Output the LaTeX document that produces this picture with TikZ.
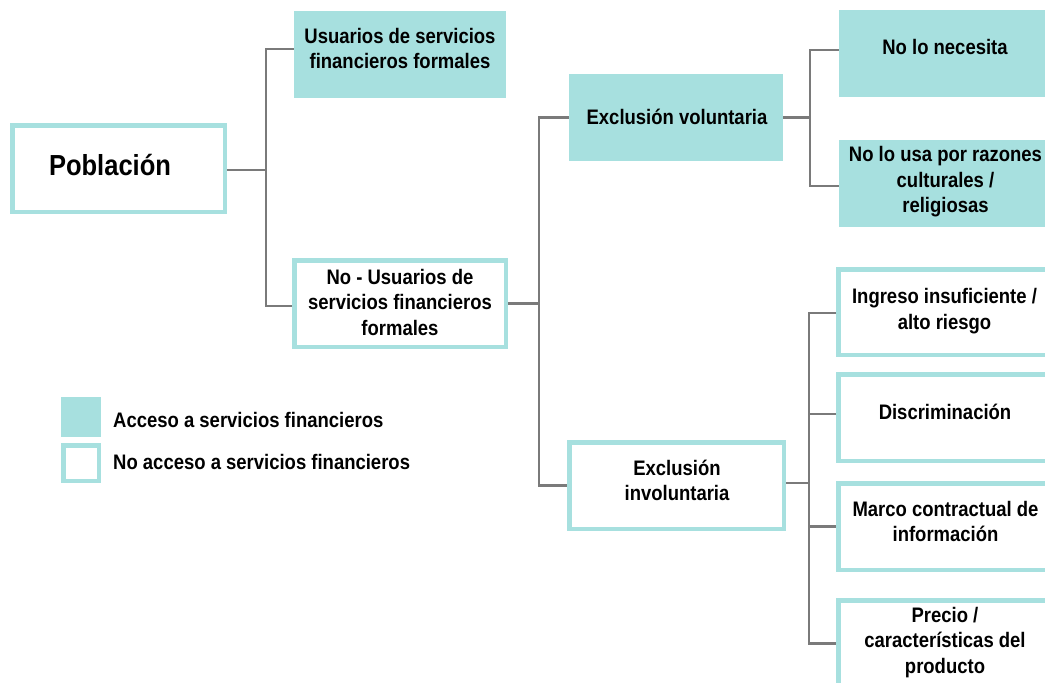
\documentclass[tikz,border=0pt]{standalone}
\usepackage{fontspec}
\setmainfont{Liberation Sans}[FakeStretch=0.88]
\definecolor{tealfill}{HTML}{A7E0DF}
\definecolor{wirecol}{HTML}{7A7A7A}
\newcommand\bxfont{\bfseries\fontsize{21}{25.5}\selectfont}
\newcommand\popfont{\bfseries\fontsize{29}{34}\selectfont}
\begin{document}
\begin{tikzpicture}[x=1pt,y=-1pt,
  fillbox/.style={fill=tealfill, draw=none, inner sep=0pt, minimum width=213pt, minimum height=87pt},
  outbox/.style={draw=tealfill, line width=4.5pt, fill=white, inner sep=0pt, minimum width=213.5pt, minimum height=86.5pt},
  txt/.style={align=center, font=\bxfont, inner sep=0pt, text=black},
  wire/.style={draw=wirecol, line width=2.5pt}]
\useasboundingbox (0,0) rectangle (1045,683);
\clip (0,0) rectangle (1045,683);
% boxes
\node[outbox, minimum width=212.5pt] (pob) at (118.5,168.5) {};
\node[fillbox, minimum width=212pt] (usu) at (400,54.5) {};
\node[outbox, minimum width=211.5pt] (nou) at (400,303.5) {};
\node[fillbox, minimum width=214pt] (exv) at (676,117.5) {};
\node[outbox, minimum width=214.5pt] (exi) at (676.5,485.5) {};
\node[fillbox] (nec) at (945.5,53.5) {};
\node[fillbox] (raz) at (945.5,183.5) {};
\node[outbox, minimum height=85.5pt] (ing) at (945,312) {};
\node[outbox] (dis) at (945,417.5) {};
\node[outbox] (mar) at (945,526.5) {};
\node[outbox] (pre) at (945,643.5) {};
% legend
\node[fill=tealfill, inner sep=0pt, minimum size=40pt] (lga) at (81,417) {};
\node[draw=tealfill, line width=4.5pt, fill=white, inner sep=0pt, minimum size=35.5pt] (lgb) at (81,463) {};
% texts
\node[font=\popfont, inner sep=0pt] (tpob) at (110,165) {Población};
\node[txt] (tusu) at (400,48.5) {Usuarios de servicios\\financieros formales};
\node[txt] (tnou) at (400,302) {No - Usuarios de\\servicios financieros\\formales};
\node[txt] (texv) at (677,117) {Exclusión voluntaria};
\node[txt] (texi) at (677,480.5) {Exclusión\\involuntaria};
\node[txt] (tnec) at (945,47) {No lo necesita};
\node[txt] (traz) at (945.5,182) {No lo usa por razones\\culturales /\\religiosas};
\node[txt] (ting) at (944.5,311) {Ingreso insuficiente /\\alto riesgo};
\node[txt] (tdis) at (945,412) {Discriminación};
\node[txt] (tmar) at (945.5,521.5) {Marco contractual de\\información};
\node[txt] (tpre) at (945,642.5) {Precio /\\características del\\producto};
\node[txt, anchor=west] (tlga) at (113,420) {Acceso a servicios financieros};
\node[txt, anchor=west] (tlgb) at (113,462) {No acceso a servicios financieros};
% connectors
\coordinate (j1) at (266,170);
\draw[wire] ([yshift=-1.5pt]pob.east) -- ([yshift=-1.5pt]pob.east -| j1);
\draw[wire] ([yshift=5.5pt]usu.west) -| (j1) |- ([yshift=-2.5pt]nou.west);
\coordinate (j2) at (539,304);
\draw[wire] (nou.east) -- (nou.east -| j2);
\draw[wire] (exv.west) -| (j2) |- (exi.west);
\coordinate (j3) at (810,118);
\draw[wire] (exv.east) -- (exv.east -| j3);
\draw[wire] ([yshift=3.5pt]nec.west) -| (j3) |- ([yshift=-2.5pt]raz.west);
\coordinate (j4) at (809,483);
\draw[wire] ([yshift=2.5pt]exi.east) -- ([yshift=2.5pt]exi.east -| j4);
\draw[wire] ([yshift=-1pt]ing.west) -| (j4) |- (pre.west);
\draw[wire] ([yshift=3.5pt]dis.west) -- ([yshift=3.5pt]dis.west -| j4);
\draw[wire] (mar.west) -- (mar.west -| j4);
\end{tikzpicture}
\end{document}
